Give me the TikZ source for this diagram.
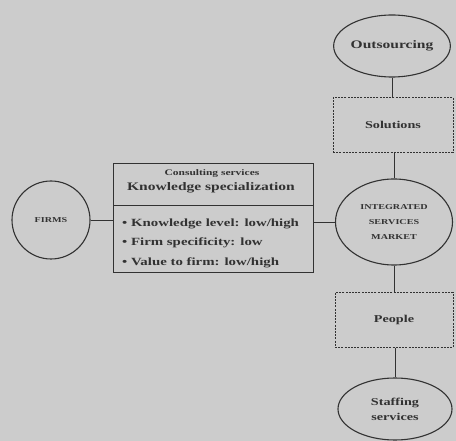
\documentclass[tikz,border=0pt]{standalone}
\usepackage{fontspec}
\setmainfont{Liberation Serif}
\newfontfamily\widefont[FakeStretch=1.35]{Liberation Serif}
\usetikzlibrary{shapes.geometric}
\definecolor{paper}{RGB}{204,204,204}
\definecolor{ink}{RGB}{50,50,50}
\newcommand{\fsz}[1]{\fontsize{#1}{#1}\selectfont}
\tikzset{
  x=1pt,y=-1pt,
  oval/.style={draw=ink,line width=1.1pt,ellipse,inner sep=0pt,align=center,text=ink},
  dbox/.style={draw=ink,line width=0.9pt,dash pattern=on 2pt off 1.2pt,inner sep=0pt,text=ink},
  conn/.style={draw=ink,line width=0.9pt},
  lbl/.style={text=ink,inner sep=0pt,align=center},
}
\begin{document}
\begin{tikzpicture}[font=\widefont\bfseries]
\fill[paper] (0,0) rectangle (456,441);
\useasboundingbox (0,0) rectangle (456,441);
% firms circle
\node[oval,circle,minimum size=78pt,font=\widefont\bfseries\fsz{7.5}] (firms) at (51,220) {FIRMS};
% middle box
\node[draw=ink,line width=1pt,minimum width=200pt,minimum height=109pt,inner sep=0pt] (box) at (213,218) {};
\coordinate (sepL) at (113,205);
\coordinate (sepR) at (313,205);
\draw[conn] (sepL) -- (sepR);
\node[lbl,font=\widefont\bfseries\fsz{8.5}] (head1) at (212,173) {Consulting services};
\node[lbl,font=\widefont\bfseries\fsz{11.5}] (head2) at (211,188) {Knowledge specialization};
\node[lbl,align=left,anchor=west,font=\widefont\bfseries\fontsize{11}{19.5}\selectfont] (bul) at (122,243) {• Knowledge level: low/high\\• Firm specificity: low\\• Value to firm: low/high};
% right column
\node[oval,minimum width=113pt,minimum height=62pt,font=\widefont\bfseries\fsz{11.5}] (out) at (392,46) {Outsourcing};
\node[dbox,minimum width=120pt,minimum height=55pt,font=\widefont\bfseries\fsz{10.5}] (sol) at (393,125) {Solutions};
\node[oval,minimum width=117pt,minimum height=86pt,font=\widefont\bfseries\fontsize{7.5}{15}\selectfont] (ism) at (394,222) {INTEGRATED\\SERVICES\\MARKET};
\node[dbox,minimum width=118pt,minimum height=55pt,font=\widefont\bfseries\fsz{10.5}] (ppl) at (394,320) {People};
\node[oval,minimum width=114pt,minimum height=62pt,font=\widefont\bfseries\fontsize{10.5}{15}\selectfont] (staff) at (395,409) {Staffing\\services};
% connectors
\draw[conn] (firms.east) -- (box.west |- firms.east);
\draw[conn] (box.east |- ism.west) -- (ism.west);
\draw[conn] (out.south) -- (sol.north -| out.south);
\draw[conn] (sol.south -| ism.north) -- (ism.north);
\draw[conn] (ism.south) -- (ppl.north -| ism.south);
\draw[conn] (ppl.south -| staff.north) -- (staff.north);
\end{tikzpicture}
\end{document}
